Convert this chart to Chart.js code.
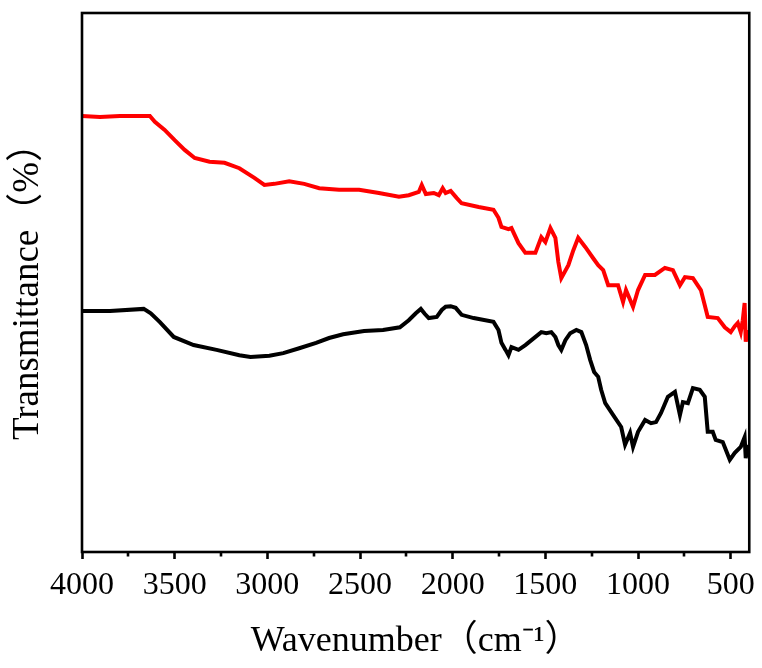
<!DOCTYPE html>
<html>
<head>
<meta charset="utf-8">
<script src="https://cdn.jsdelivr.net/npm/chart.js@4/dist/chart.umd.min.js"></script>
<style>
  body { margin: 0; background: #fff; }
  canvas { display: block; }
</style>
</head>
<body>
<canvas id="ftirChart" width="762" height="668"></canvas>
<script>
// --- data ---
const redWavenumber = [4000, 3903, 3796, 3688, 3634, 3607, 3554, 3500, 3446, 3392, 3312, 3231, 3151, 3070, 3016, 2962, 2882, 2801, 2720, 2613, 2505, 2398, 2290, 2237, 2183, 2167, 2145, 2102, 2075, 2054, 2038, 2011, 1979, 1952, 1860, 1780, 1753, 1737, 1699, 1683, 1645, 1608, 1554, 1522, 1500, 1473, 1446, 1430, 1414, 1376, 1349, 1323, 1285, 1242, 1215, 1188, 1161, 1108, 1081, 1065, 1043, 1027, 1000, 962, 909, 855, 812, 774, 747, 704, 661, 640, 624, 570, 532, 500, 478, 462, 446, 435, 425, 419, 409];
const redTransmittance = [80.9, 80.7, 80.9, 80.9, 80.9, 79.8, 78.3, 76.4, 74.6, 73.1, 72.4, 72.2, 71.2, 69.4, 68.1, 68.3, 68.8, 68.3, 67.5, 67.2, 67.2, 66.6, 65.9, 66.2, 66.8, 68.1, 66.4, 66.6, 66.2, 67.5, 66.6, 67.0, 65.7, 64.7, 64.0, 63.5, 62.0, 60.3, 59.9, 60.1, 57.3, 55.5, 55.5, 58.4, 57.5, 60.1, 58.3, 53.8, 50.8, 53.2, 56.0, 58.3, 56.6, 54.5, 53.2, 52.3, 49.5, 49.5, 46.4, 48.6, 46.8, 45.5, 48.6, 51.4, 51.4, 52.7, 52.3, 49.5, 51.0, 50.8, 48.6, 45.8, 43.6, 43.4, 41.7, 40.8, 41.9, 42.5, 40.8, 43.0, 46.2, 39.0, 41.2];

const blackWavenumber = [4000, 3849, 3667, 3629, 3581, 3505, 3398, 3274, 3151, 3091, 2989, 2914, 2828, 2737, 2667, 2591, 2478, 2376, 2285, 2237, 2199, 2172, 2151, 2129, 2086, 2059, 2038, 2011, 1984, 1952, 1887, 1780, 1753, 1737, 1715, 1699, 1683, 1645, 1608, 1575, 1522, 1495, 1468, 1446, 1430, 1414, 1392, 1366, 1333, 1306, 1280, 1258, 1237, 1215, 1199, 1177, 1134, 1091, 1070, 1043, 1027, 1000, 962, 930, 903, 876, 839, 801, 774, 758, 731, 704, 667, 640, 624, 597, 581, 543, 505, 478, 446, 425, 419, 409];
const blackTransmittance = [44.7, 44.7, 45.1, 44.3, 42.7, 39.9, 38.4, 37.5, 36.5, 36.2, 36.4, 36.9, 37.8, 38.8, 39.7, 40.4, 41.0, 41.2, 41.7, 43.0, 44.3, 45.1, 44.2, 43.4, 43.6, 44.9, 45.5, 45.6, 45.3, 44.0, 43.4, 42.7, 41.2, 38.8, 37.5, 36.5, 38.0, 37.5, 38.4, 39.3, 40.8, 40.6, 40.8, 39.9, 38.4, 37.5, 39.3, 40.6, 41.2, 40.8, 38.4, 35.6, 33.4, 32.5, 30.1, 27.6, 25.4, 23.2, 19.9, 22.1, 19.5, 22.3, 24.5, 23.9, 24.1, 25.8, 28.8, 29.7, 25.4, 27.8, 27.6, 30.4, 30.1, 28.8, 22.3, 22.3, 20.8, 20.4, 17.1, 18.4, 19.5, 21.3, 17.4, 19.9];

const majorTicks = [4000, 3500, 3000, 2500, 2000, 1500, 1000, 500];
const minorTicks = [3750, 3250, 2750, 2250, 1750, 1250, 750];

const toPoints = (xs, ys) => xs.map((x, i) => ({ x: x, y: ys[i] }));

// frame round the plot + short minor ticks
const framePlugin = {
    id: 'frame',
    afterDraw(chart) {
        const { ctx, chartArea: a, scales: { x } } = chart;
        ctx.save();
        ctx.strokeStyle = '#000';
        ctx.lineWidth = 2.6;
        ctx.strokeRect(a.left, a.top, a.right - a.left, a.bottom - a.top);
        ctx.beginPath();
        minorTicks.forEach(v => {
            const px = Math.round(x.getPixelForValue(v));
            ctx.moveTo(px, a.bottom);
            ctx.lineTo(px, a.bottom + 4.5);
        });
        ctx.stroke();
        ctx.restore();
    }
};

const serif = '"Liberation Serif", "Times New Roman", "Noto Sans CJK SC", serif';

new Chart(document.getElementById('ftirChart'), {
    type: 'line',
    data: {
        datasets: [
            {
                label: 'red',
                data: toPoints(redWavenumber, redTransmittance),
                borderColor: '#ff0000',
                borderWidth: 4,
                pointRadius: 0,
                tension: 0
            },
            {
                label: 'black',
                data: toPoints(blackWavenumber, blackTransmittance),
                borderColor: '#000000',
                borderWidth: 4,
                pointRadius: 0,
                tension: 0
            }
        ]
    },
    options: {
        responsive: false,
        animation: false,
        layout: { padding: { top: 13, right: 10, left: 0, bottom: 0 } },
        plugins: { legend: { display: false }, tooltip: { enabled: false } },
        scales: {
            x: {
                type: 'linear',
                min: 400,
                max: 4000,
                reverse: true,
                afterBuildTicks: (scale) => { scale.ticks = majorTicks.map(v => ({ value: v })); },
                afterFit: (scale) => { scale.height = 116; },
                border: { display: false },
                grid: {
                    display: true,
                    drawOnChartArea: false,
                    drawTicks: true,
                    tickLength: 7,
                    tickWidth: 2.6,
                    tickColor: '#000'
                },
                ticks: {
                    color: '#000',
                    padding: 7,
                    maxRotation: 0,
                    autoSkip: false,
                    callback: (v) => String(v),
                    font: { family: serif, size: 32 }
                },
                title: {
                    display: true,
                    text: 'Wavenumber（cm⁻¹）',
                    color: '#000',
                    padding: { top: 0, bottom: 5 },
                    font: { family: serif, size: 36 }
                }
            },
            y: {
                min: 0,
                max: 100,
                afterFit: (scale) => { scale.width = 82; },
                border: { display: false },
                grid: { display: false, drawTicks: false },
                ticks: { display: false },
                title: {
                    display: true,
                    text: 'Transmittance（%）',
                    color: '#000',
                    padding: { top: 6, bottom: 0 },
                    font: { family: serif, size: 37 }
                }
            }
        }
    },
    plugins: [framePlugin]
});
</script>
</body>
</html>
